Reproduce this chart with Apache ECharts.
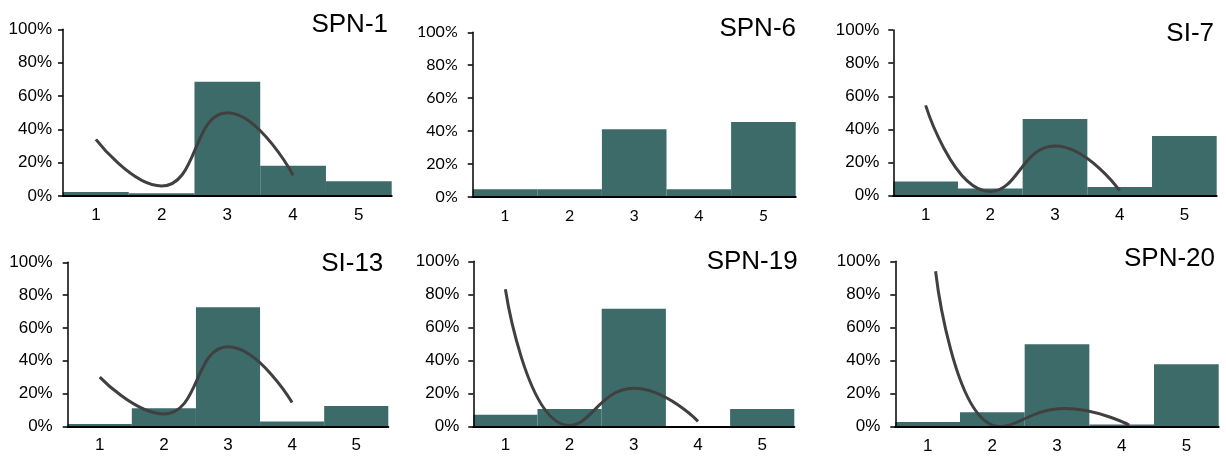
<!DOCTYPE html>
<html><head><meta charset="utf-8">
<script src="https://cdn.jsdelivr.net/npm/echarts@6/dist/echarts.min.js"></script>
<style>html,body{margin:0;padding:0;background:#fff}#c{width:1226px;height:457px}</style>
</head><body><div id="c"></div>
<script>
// ---- data ----
const categories = ['1', '2', '3', '4', '5'];
const titles = ['SPN-1', 'SPN-6', 'SI-7', 'SI-13', 'SPN-19', 'SPN-20'];
const yTickValues = [0, 20, 40, 60, 80, 100];

const barsSPN1  = [2.4, 1.6, 68.6, 18.2, 8.8];
const lineSPN1  = [34, 6, 50, 12.5, null];

const barsSPN6  = [4.5, 4.5, 41, 4.5, 45.5];
const lineSPN6  = null;

const barsSI7   = [8.6, 4.4, 46.3, 5.3, 36];
const lineSI7   = [54.5, 2.5, 30, 3, null];

const barsSI13  = [1.4, 11, 72.6, 3, 12.4];
const lineSI13  = [30, 7.5, 48.5, 14.5, null];

const barsSPN19 = [7, 10.5, 71.3, 0, 10.5];
const lineSPN19 = [83, 0.5, 23, 3, null];

const barsSPN20 = [2.8, 8.7, 49.8, 1.4, 37.7];
const lineSPN20 = [94, 0, 11, 1, null];

// ---- layout / style ----
const ARIAL = '"Liberation Sans", Arial, sans-serif';
const CALIBRI = 'Lato, "Liberation Sans", sans-serif';
const panels = [
  {title: titles[0], bars: barsSPN1,  line: lineSPN1,  g: {left: 63,    top: 29.3,  width: 328.7, height: 166.7}, tx: 388,   ty: 25,    font: ARIAL,   fs: 17, ym: 11, shift: 0},
  {title: titles[1], bars: barsSPN6,  line: lineSPN6,  g: {left: 472.7, top: 32.3,  width: 323,   height: 164.4}, tx: 796,   ty: 28.7,  font: CALIBRI, fs: 16, ym: 15, shift: 0},
  {title: titles[2], bars: barsSI7,   line: lineSI7,   g: {left: 893.3, top: 30,    width: 323.4, height: 165.7}, tx: 1214,  ty: 34,    font: ARIAL,   fs: 17, ym: 14, shift: 0},
  {title: titles[3], bars: barsSI13,  line: lineSI13,  g: {left: 67.7,  top: 262.3, width: 320.6, height: 164},   tx: 383.3, ty: 263.5, font: ARIAL,   fs: 17, ym: 15, shift: 0},
  {title: titles[4], bars: barsSPN19, line: lineSPN19, g: {left: 473.3, top: 261.3, width: 321,   height: 165},   tx: 797.7, ty: 262,   font: ARIAL,   fs: 17, ym: 14, shift: 0},
  {title: titles[5], bars: barsSPN20, line: lineSPN20, g: {left: 895.3, top: 261.3, width: 323.4, height: 165.4}, tx: 1215,  ty: 259,   font: ARIAL,   fs: 17, ym: 15, shift: 8}
];

const BAR_COLOR = '#3d6b6a';
const LINE_COLOR = '#404040';

const grid = [], xAxis = [], yAxis = [], series = [], graphic = [];

function addAxes(gi, p, visible) {
  xAxis.push({
    type: 'category', gridIndex: gi, data: categories, boundaryGap: true, show: visible, z: 5,
    axisLine: {show: true, lineStyle: {color: '#000', width: 2}},
    axisTick: {show: false},
    axisLabel: {margin: 11, fontSize: p.fs, fontFamily: p.font, color: '#000'},
    splitLine: {show: false}
  });
  yAxis.push({
    type: 'value', gridIndex: gi, min: yTickValues[0], max: yTickValues[yTickValues.length - 1],
    interval: yTickValues[1] - yTickValues[0], show: visible, z: 5,
    axisLine: {show: true, lineStyle: {color: '#000', width: 1.5}},
    axisTick: {show: true, length: 5, lineStyle: {color: '#000', width: 1.5}},
    axisLabel: {margin: p.ym, fontSize: p.fs, fontFamily: p.font, color: '#000', formatter: '{value}%'},
    splitLine: {show: false}
  });
}

panels.forEach((p) => {
  const gi = grid.length;
  grid.push(Object.assign({containLabel: false}, p.g));
  addAxes(gi, p, true);
  series.push({
    type: 'bar', xAxisIndex: gi, yAxisIndex: gi, data: p.bars,
    barCategoryGap: '0%', itemStyle: {color: BAR_COLOR}, silent: true, z: 2
  });
  if (p.line) {
    let li = gi;
    if (p.shift) {
      li = grid.length;
      grid.push({left: p.g.left + p.shift, top: p.g.top, width: p.g.width, height: p.g.height});
      addAxes(li, p, false);
    }
    series.push({
      type: 'line', xAxisIndex: li, yAxisIndex: li, data: p.line, smooth: 0.5,
      symbol: 'none', clip: true, connectNulls: false, z: 3,
      lineStyle: {color: LINE_COLOR, width: 3}
    });
  }
  graphic.push({
    type: 'text', x: p.tx, y: p.ty, z: 10,
    style: {text: p.title, font: '26px "Liberation Sans", Arial, sans-serif', fill: '#000',
            textAlign: 'right', textVerticalAlign: 'middle', verticalAlign: 'middle'}
  });
});

const chart = echarts.init(document.getElementById('c'), null, {renderer: 'canvas'});
chart.setOption({
  backgroundColor: '#fff',
  animation: false,
  grid, xAxis, yAxis, series, graphic
});
</script>
</body></html>
